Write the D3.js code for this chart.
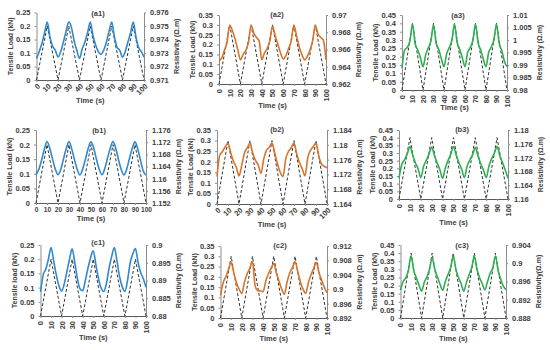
<!DOCTYPE html>
<html>
<head>
<meta charset="UTF-8">
<title>Tensile load and resistivity</title>
<script src="https://cdn.jsdelivr.net/npm/d3@7"></script>
<style>
body { margin: 0; background: #fff; }
svg text { font-family: "Liberation Sans", Arial, sans-serif; font-weight: bold; fill: #404040; }
.ax path, .ax line { stroke: #8c8c8c; }
.ax.bot path { stroke: #595959; }
</style>
</head>
<body>
<svg id="chart" width="550" height="350"></svg>
<script>
// time axis shared by every resistivity curve (s)
var resTime = [0, 2.5, 5, 7.5, 10, 12.5, 15, 17.5, 20, 22.5, 25, 27.5, 30, 32.5, 35, 37.5, 40,
  42.5, 45, 47.5, 50, 52.5, 55, 57.5, 60, 62.5, 65, 67.5, 70, 72.5, 75, 77.5, 80,
  82.5, 85, 87.5, 90, 92.5, 95, 97.5, 100];

// tensile load (dashed triangle wave)
var loadTime = [0, 10, 20, 30, 40, 50, 60, 70, 80, 90, 100];
var load02 = [0, 0.2, 0, 0.2, 0, 0.2, 0, 0.2, 0, 0.2, 0];
var load03 = [0, 0.3, 0, 0.3, 0, 0.3, 0, 0.3, 0, 0.3, 0];
var load04 = [0, 0.4, 0, 0.4, 0, 0.4, 0, 0.4, 0, 0.4, 0];

// resistivity (Ω.m)
var resA1 = [0.9726, 0.9731, 0.9737, 0.9745, 0.9753, 0.9742, 0.9735, 0.9732, 0.9727,
  0.9731, 0.9738, 0.9746, 0.9753, 0.9749, 0.9739, 0.9732, 0.9726,
  0.9733, 0.9738, 0.9745, 0.9753, 0.9743, 0.9736, 0.9731, 0.9729,
  0.9732, 0.9738, 0.9746, 0.9753, 0.9742, 0.9734, 0.9732, 0.9727,
  0.9731, 0.9738, 0.9745, 0.9753, 0.9742, 0.9734, 0.9731, 0.9727];
var resA2 = [0.9647, 0.9650, 0.9659, 0.9668, 0.9688, 0.9682, 0.9672, 0.9660, 0.9648,
  0.9654, 0.9659, 0.9668, 0.9688, 0.9679, 0.9674, 0.9670, 0.9648,
  0.9656, 0.9661, 0.9670, 0.9687, 0.9676, 0.9666, 0.9656, 0.9649,
  0.9653, 0.9661, 0.9670, 0.9688, 0.9676, 0.9663, 0.9654, 0.9648,
  0.9652, 0.9659, 0.9670, 0.9688, 0.9678, 0.9674, 0.9671, 0.9648];
var resA3 = [0.9887, 0.9960, 0.9970, 0.9995, 1.0064, 0.9985, 0.9960, 0.9930, 0.9893,
  0.9940, 0.9968, 0.9995, 1.0060, 0.9988, 0.9962, 0.9925, 0.9893,
  0.9945, 0.9970, 0.9998, 1.0064, 0.9990, 0.9963, 0.9928, 0.9893,
  0.9950, 0.9970, 0.9998, 1.0063, 0.9988, 0.9960, 0.9922, 0.9893,
  0.9950, 0.9972, 1.0000, 1.0063, 0.9988, 0.9958, 0.9915, 0.9893];
var resB1 = [1.1613, 1.1630, 1.1660, 1.1695, 1.1722, 1.1700, 1.1665, 1.1632, 1.1613,
  1.1630, 1.1665, 1.1698, 1.1722, 1.1698, 1.1662, 1.1630, 1.1612,
  1.1632, 1.1665, 1.1700, 1.1721, 1.1700, 1.1663, 1.1630, 1.1613,
  1.1633, 1.1667, 1.1700, 1.1722, 1.1700, 1.1662, 1.1630, 1.1612,
  1.1632, 1.1667, 1.1700, 1.1721, 1.1698, 1.1660, 1.1625, 1.1612];
var resB2 = [1.1714, 1.1772, 1.1782, 1.1795, 1.1804, 1.1778, 1.1755, 1.1740, 1.1716,
  1.1745, 1.1778, 1.1792, 1.1804, 1.1777, 1.1758, 1.1745, 1.1723,
  1.1762, 1.1785, 1.1793, 1.1805, 1.1777, 1.1748, 1.1725, 1.1714,
  1.1762, 1.1782, 1.1792, 1.1805, 1.1775, 1.1752, 1.1735, 1.1716,
  1.1765, 1.1785, 1.1795, 1.1805, 1.1770, 1.1748, 1.1742, 1.1738];
var resB3 = [1.1660, 1.1700, 1.1713, 1.1730, 1.1752, 1.1728, 1.1705, 1.1688, 1.1662,
  1.1694, 1.1712, 1.1730, 1.1750, 1.1726, 1.1705, 1.1685, 1.1660,
  1.1690, 1.1712, 1.1730, 1.1752, 1.1727, 1.1705, 1.1686, 1.1662,
  1.1695, 1.1713, 1.1728, 1.1749, 1.1724, 1.1702, 1.1684, 1.1662,
  1.1695, 1.1717, 1.1733, 1.1752, 1.1725, 1.1705, 1.1684, 1.1660];
var resC1 = [0.8868, 0.8915, 0.8932, 0.8960, 0.8993, 0.8955, 0.8915, 0.8885, 0.8870,
  0.8890, 0.8925, 0.8960, 0.8989, 0.8950, 0.8905, 0.8876, 0.8871,
  0.8900, 0.8935, 0.8965, 0.8984, 0.8945, 0.8905, 0.8878, 0.8869,
  0.8892, 0.8935, 0.8968, 0.8993, 0.8955, 0.8910, 0.8882, 0.8869,
  0.8900, 0.8950, 0.8975, 0.8990, 0.8950, 0.8922, 0.8905, 0.8881];
var resC2 = [0.8983, 0.9018, 0.9035, 0.9055, 0.9074, 0.9045, 0.9018, 0.9000, 0.8988,
  0.9020, 0.9042, 0.9058, 0.9076, 0.9010, 0.8996, 0.8995, 0.8993,
  0.9022, 0.9043, 0.9058, 0.9071, 0.9045, 0.9022, 0.9000, 0.8986,
  0.9020, 0.9045, 0.9060, 0.9076, 0.9050, 0.9020, 0.9000, 0.8988,
  0.9018, 0.9040, 0.9058, 0.9074, 0.9045, 0.9025, 0.9005, 0.8990];
var resC3 = [0.8941, 0.8960, 0.8968, 0.8985, 0.9016, 0.8985, 0.8968, 0.8952, 0.8939,
  0.8958, 0.8970, 0.8987, 0.9011, 0.8987, 0.8970, 0.8954, 0.8941,
  0.8960, 0.8975, 0.8990, 0.9015, 0.8987, 0.8968, 0.8955, 0.8939,
  0.8958, 0.8975, 0.8990, 0.9016, 0.8987, 0.8968, 0.8955, 0.8942,
  0.8960, 0.8978, 0.8990, 0.9016, 0.8984, 0.8965, 0.8950, 0.8942];

// x tick labels
var timeTicks = [0, 10, 20, 30, 40, 50, 60, 70, 80, 90, 100];

// left axis ticks
var loadTicks025 = [0, 0.05, 0.1, 0.15, 0.2, 0.25];
var loadTicks035 = [0, 0.05, 0.1, 0.15, 0.2, 0.25, 0.3, 0.35];
var loadTicks045 = [0, 0.05, 0.1, 0.15, 0.2, 0.25, 0.3, 0.35, 0.4, 0.45];

// right axis ticks
var resTicksA1 = [0.971, 0.972, 0.973, 0.974, 0.975, 0.976];
var resTicksA2 = [0.962, 0.964, 0.966, 0.968, 0.97];
var resTicksA3 = [0.98, 0.985, 0.99, 0.995, 1, 1.005, 1.01];
var resTicksB1 = [1.152, 1.156, 1.16, 1.164, 1.168, 1.172, 1.176];
var resTicksB2 = [1.164, 1.168, 1.172, 1.176, 1.18, 1.184];
var resTicksB3 = [1.16, 1.164, 1.168, 1.172, 1.176, 1.18];
var resTicksC1 = [0.88, 0.885, 0.89, 0.895, 0.9];
var resTicksC2 = [0.892, 0.896, 0.9, 0.904, 0.908, 0.912];
var resTicksC3 = [0.888, 0.892, 0.896, 0.9, 0.904];

var titles = ["(a1)", "(a2)", "(a3)", "(b1)", "(b2)", "(b3)", "(c1)", "(c2)", "(c3)"];

var blue = "#2f89cf", orange = "#d9742b", green = "#2db04f";

// panel boxes: left, right, top, bottom; x-label rotation; title pos; "Time (s)" y
var panels = [
  { box: [36.5, 144, 12.5, 80], rot: -45, tx: 98, ty: 13, ly: 100, res: resA1, rt: resTicksA1, load: load02, lt: loadTicks025, col: blue, lName: "Tensile Load (kN)", rName: "Resistivity (Ω.m)" },
  { box: [219, 326, 15, 84], rot: -90, tx: 277, ty: 13.5, ly: 105, res: resA2, rt: resTicksA2, load: load03, lt: loadTicks035, col: orange, lName: "Tensile Load (kN)", rName: "Resistivity (Ω.m)" },
  { box: [402, 507, 15, 90], rot: -90, tx: 458, ty: 15, ly: 107, res: resA3, rt: resTicksA3, load: load04, lt: loadTicks045, col: green, lName: "Tensile Load (kN)", rName: "Resistivity (Ω.m)" },
  { box: [36, 146, 130, 203], rot: 0, tx: 99, ty: 130, ly: 218, res: resB1, rt: resTicksB1, load: load02, lt: loadTicks025, col: blue, lName: "Tensile Load (kN)", rName: "Resistivity (Ω.m)" },
  { box: [217, 327, 130, 204], rot: -45, tx: 277, ty: 129, ly: 224, res: resB2, rt: resTicksB2, load: load03, lt: loadTicks035, col: orange, lName: "Tensile Load (kN)", rName: "Resistivity (Ω.m)" },
  { box: [399, 508, 130, 199], rot: -90, tx: 462, ty: 128.5, ly: 222, res: resB3, rt: resTicksB3, load: load04, lt: loadTicks045, col: green, lName: "Tensile Load (kN)", rName: "Resistivity (Ω.m)" },
  { box: [40.5, 146, 245, 316], rot: -90, tx: 98, ty: 242, ly: 337, res: resC1, rt: resTicksC1, load: load02, lt: loadTicks025, col: blue, lName: "Tensile load (kN)", rName: "Resistivity (Ω.m)" },
  { box: [220.5, 327, 246, 318], rot: -90, tx: 280, ty: 245, ly: 338, res: resC2, rt: resTicksC2, load: load03, lt: loadTicks035, col: orange, lName: "Tensile Load (kN)", rName: "Resistivity (Ω.m)" },
  { box: [400.5, 506, 245, 318], rot: -90, tx: 462, ty: 245, ly: 338, res: resC3, rt: resTicksC3, load: load04, lt: loadTicks045, col: green, lName: "Tensile Load (kN)", rName: "Resistivity(Ω.m)" }
];

var svg = d3.select("#chart");
var fmt = function(d) { return String(+d.toFixed(4)); };

panels.forEach(function(p, i) {
  var L = p.box[0], R = p.box[1], T = p.box[2], B = p.box[3];
  var g = svg.append("g");

  var x = d3.scaleLinear().domain([0, 100]).range([L, R]);
  var yL = d3.scaleLinear().domain([0, d3.max(p.lt)]).range([B, T]);
  var yR = d3.scaleLinear().domain(d3.extent(p.rt)).range([B, T]);

  // left axis
  g.append("g").attr("class", "ax").attr("transform", "translate(" + L + ",0)")
    .call(d3.axisLeft(yL).tickValues(p.lt).tickFormat(fmt).tickSize(2).tickSizeOuter(0))
    .selectAll("text").style("font-size", "7.5px").attr("dx", "-1");

  // right axis
  g.append("g").attr("class", "ax").attr("transform", "translate(" + R + ",0)")
    .call(d3.axisRight(yR).tickValues(p.rt).tickFormat(fmt).tickSize(2).tickSizeOuter(0))
    .selectAll("text").style("font-size", "7.5px").attr("dx", "1");

  // bottom axis
  var bx = g.append("g").attr("class", "ax bot").attr("transform", "translate(0," + B + ")")
    .call(d3.axisBottom(x).tickValues(timeTicks).tickFormat(fmt).tickSize(2).tickSizeOuter(0));
  var bt = bx.selectAll("text");
  if (p.rot === -90) {
    bt.style("font-size", "7.5px").attr("text-anchor", "end").attr("dy", "0.32em")
      .attr("x", 0).attr("y", 0).attr("transform", "translate(0,5) rotate(-90)");
  } else if (p.rot === -45) {
    bt.style("font-size", "7.5px").attr("text-anchor", "end").attr("dy", "0.32em")
      .attr("x", 0).attr("y", 0).attr("transform", "translate(2,5) rotate(-45)");
  } else {
    bt.style("font-size", "6.6px").attr("dy", "0.6em");
  }

  // dashed load line
  var loadLine = d3.line().x(function(d, k) { return x(loadTime[k]); }).y(function(d) { return yL(d); });
  g.append("path").datum(p.load).attr("d", loadLine)
    .attr("fill", "none").attr("stroke", "#333").attr("stroke-width", 1).attr("stroke-dasharray", "3,2");

  // resistivity line
  var resLine = d3.line().curve(d3.curveMonotoneX)
    .x(function(d, k) { return x(resTime[k]); }).y(function(d) { return yR(d); });
  g.append("path").datum(p.res).attr("d", resLine)
    .attr("fill", "none").attr("stroke", p.col).attr("stroke-width", 1.6);

  // texts
  g.append("text").attr("x", p.tx).attr("y", p.ty + 3).attr("text-anchor", "middle")
    .style("font-size", "7.5px").text(titles[i]);
  g.append("text").attr("x", (L + R) / 2).attr("y", p.ly + 2.5).attr("text-anchor", "middle")
    .style("font-size", "7.5px").text("Time (s)");
  g.append("text").attr("transform", "translate(" + (L - 26) + "," + ((T + B) / 2) + ") rotate(-90)")
    .attr("text-anchor", "middle").attr("dy", "0.35em").style("font-size", "7px").text(p.lName);
  g.append("text").attr("transform", "translate(" + (R + 33) + "," + ((T + B) / 2) + ") rotate(-90)")
    .attr("text-anchor", "middle").attr("dy", "0.35em").style("font-size", "7px").text(p.rName);
});
</script>
</body>
</html>
